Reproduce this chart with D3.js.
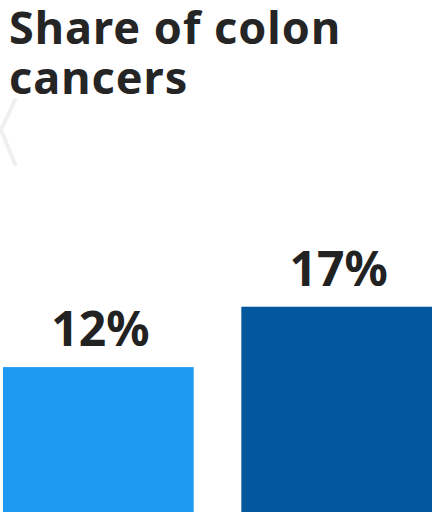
<!DOCTYPE html>
<html>
<head>
<meta charset="utf-8">
<script src="https://cdn.jsdelivr.net/npm/d3@7"></script>
<style>
  html, body { margin: 0; padding: 0; background: #fff; }
  svg { display: block; }
</style>
</head>
<body>
<div id="chart"></div>
<script>
// Chart data
const titleLines = ["Share of colon", "cancers"];
const categories = ["Group A", "Group B"];
const values = [12, 17];
const barColors = ["#1e9af2", "#03589d"];

const width = 436;
const height = 512;
const font = "'Noto Sans', 'DejaVu Sans', sans-serif";

const svg = d3.select("#chart")
    .append("svg")
    .attr("width", width)
    .attr("height", height);

// faint back chevron behind the title
svg.append("path")
    .attr("d", "M15,100 L1,130 L15,164")
    .attr("fill", "none")
    .attr("stroke", "#f0f0f0")
    .attr("stroke-width", 4)
    .attr("stroke-linecap", "round");

// Title
svg.append("g")
    .selectAll("text")
    .data(titleLines)
    .enter()
    .append("text")
    .attr("x", 9)
    .attr("y", (d, i) => 44 + i * 50)
    .text(d => d)
    .style("font-family", font)
    .style("font-size", "45px")
    .style("font-weight", "700")
    .style("letter-spacing", "1px")
    .style("fill", "#252525");

// Scales
const x = d3.scaleBand()
    .domain(categories)
    .range([3, 432])
    .paddingInner(0.2)
    .paddingOuter(0);

const y = d3.scaleLinear()
    .domain([0, 42.4])
    .range([height, 0]);

// Bars
svg.selectAll(".bar")
    .data(values)
    .enter()
    .append("rect")
    .attr("class", "bar")
    .attr("x", (d, i) => x(categories[i]))
    .attr("y", d => y(d))
    .attr("width", x.bandwidth())
    .attr("height", d => y(0) - y(d))
    .attr("fill", (d, i) => barColors[i]);

// Value labels
svg.selectAll(".label")
    .data(values)
    .enter()
    .append("text")
    .attr("class", "label")
    .attr("x", (d, i) => x(categories[i]) + x.bandwidth() / 2 + 2)
    .attr("y", d => y(d) - 21)
    .attr("text-anchor", "middle")
    .text(d => d + "%")
    .style("font-family", font)
    .style("font-size", "48px")
    .style("font-weight", "700")
    .style("fill", "#222");
</script>
</body>
</html>
